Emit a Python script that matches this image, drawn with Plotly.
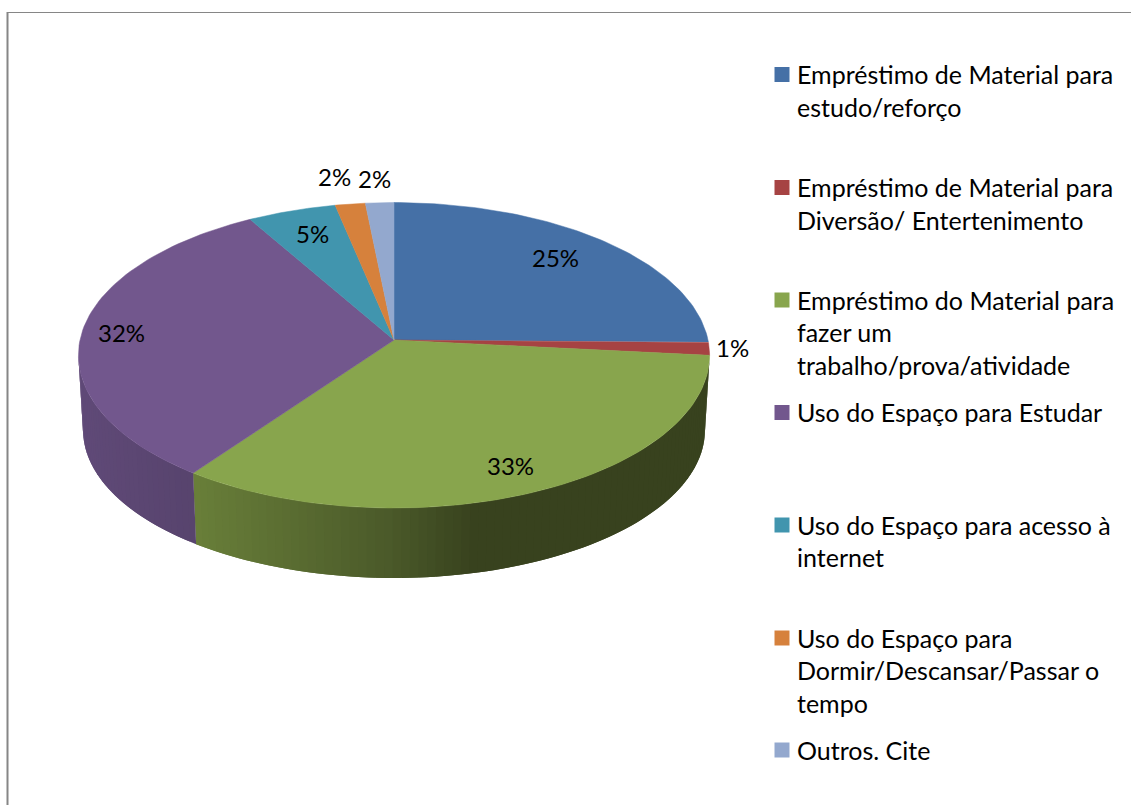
import numpy as np
import plotly.graph_objects as go

# Pie values (percent)
categories = [
    "Empréstimo de Material para<br>estudo/reforço",
    "Empréstimo de Material para<br>Diversão/ Entertenimento",
    "Empréstimo do Material para<br>fazer um<br>trabalho/prova/atividade",
    "Uso do Espaço para Estudar",
    "Uso do Espaço para acesso à<br>internet",
    "Uso do Espaço para<br>Dormir/Descansar/Passar o<br>tempo",
    "Outros. Cite",
]
values = [25.2, 1.4, 33.4, 31.7, 5.0, 1.7, 1.6]
value_labels = ["25%", "1%", "33%", "32%", "5%", "2%", "2%"]

colors = ["#4570A6", "#A64343", "#88A54D", "#72578D", "#4195AE", "#D6813C", "#93A8CE"]

# Page layout, in pixels
label_pos = [(555, 257), (732, 347), (510, 465), (121, 332), (312, 233), (334, 176), (374, 178)]
legend_y = [74.5, 187.5, 300, 412.5, 525, 638, 750]
LEGEND_X = 782
LEGEND_TEXT_X = 797
LINE_STEP = 32.5
FONT = "Lato"
LABEL_SIZE = 24
LEGEND_SIZE = 25

# Perspective disc: top face and bottom face
CX = 394
TOP = dict(cy=340, a=314, b=151.2)
BOTTOM = dict(cy=415.2, a=309.4, b=146.5)
K = 0.1

# Side wall shading, stops by x pixel
side_shades = {
    2: ([195, 394, 480, 710], [(106, 128, 58), (75, 90, 42), (56, 66, 30), (56, 66, 30)]),
    3: ([83, 195], [(96, 74, 120), (88, 68, 110)]),
}


def project(theta, disc, r=1.0):
    u = r * np.sin(theta)
    n = r * np.cos(theta)
    w = 1 + K * n
    return CX + disc["a"] * u / w, disc["cy"] - disc["b"] * n / w


def shade(x, stops):
    xs, rgb = stops
    c = [np.interp(x, xs, [p[i] for p in rgb]) for i in range(3)]
    return "rgb(%d,%d,%d)" % tuple(c)


fig = go.Figure()

edges = np.cumsum([0] + values) / sum(values) * 2 * np.pi
vis_start = np.pi - np.arccos(K)
vis_end = np.pi + np.arccos(K)

# side wall first, in thin overlapping strips so no seams show
for i, stops in side_shades.items():
    t0 = max(edges[i], vis_start)
    t1 = min(edges[i + 1], vis_end)
    cuts = np.linspace(t0, t1, int((t1 - t0) * 40) + 2)
    step = cuts[1] - cuts[0]
    for a0 in cuts[:-1]:
        a1 = min(a0 + 2 * step, t1)
        tx, ty = project(np.array([a0, a1]), TOP)
        bx, by = project(np.array([a1, a0]), BOTTOM)
        col = shade((tx[0] + bx[1]) / 2, stops)
        fig.add_trace(go.Scatter(
            x=list(tx) + list(bx), y=list(ty) + list(by),
            mode="none", fill="toself", fillcolor=col,
            hoverinfo="skip", showlegend=False,
        ))

# top face
for i, col in enumerate(colors):
    arc = np.linspace(edges[i], edges[i + 1], 80)
    ax, ay = project(arc, TOP)
    fig.add_trace(go.Scatter(
        x=[CX] + list(ax) + [CX], y=[TOP["cy"]] + list(ay) + [TOP["cy"]],
        mode="lines", fill="toself", fillcolor=col,
        line=dict(color=col, width=0.5),
        name=categories[i].replace("<br>", " "),
        hoverinfo="name", showlegend=False,
    ))

# legend swatches
fig.add_trace(go.Scatter(
    x=[LEGEND_X] * len(colors), y=legend_y, mode="markers",
    marker=dict(symbol="square", size=15, color=colors, line=dict(width=0)),
    hoverinfo="skip", showlegend=False,
))

annotations = []
for text, (px, py) in zip(value_labels, label_pos):
    annotations.append(dict(
        x=px, y=py, text=text, showarrow=False, xanchor="center", yanchor="middle",
        font=dict(family=FONT, size=LABEL_SIZE, color="black"),
    ))
for name, y0 in zip(categories, legend_y):
    for j, line in enumerate(name.split("<br>")):
        annotations.append(dict(
            x=LEGEND_TEXT_X, y=y0 - 0.5 + j * LINE_STEP, text=line, showarrow=False,
            xanchor="left", yanchor="middle", xshift=-2,
            font=dict(family=FONT, size=LEGEND_SIZE, color="black"),
        ))

fig.update_layout(
    width=1131,
    height=805,
    margin=dict(l=0, r=0, t=0, b=0),
    paper_bgcolor="white",
    plot_bgcolor="white",
    xaxis=dict(range=[0, 1131], visible=False, fixedrange=True),
    yaxis=dict(range=[805, 0], visible=False, fixedrange=True),
    annotations=annotations,
    shapes=[
        dict(type="line", x0=7.5, x1=1131, y0=12.5, y1=12.5, line=dict(color="#868686", width=1)),
        dict(type="line", x0=7.5, x1=7.5, y0=12, y1=805, line=dict(color="#868686", width=2)),
    ],
)

fig.write_html("out.html", config=dict(displayModeBar=False),
               post_script="document.body.style.margin='0';document.body.style.overflow='hidden';")
